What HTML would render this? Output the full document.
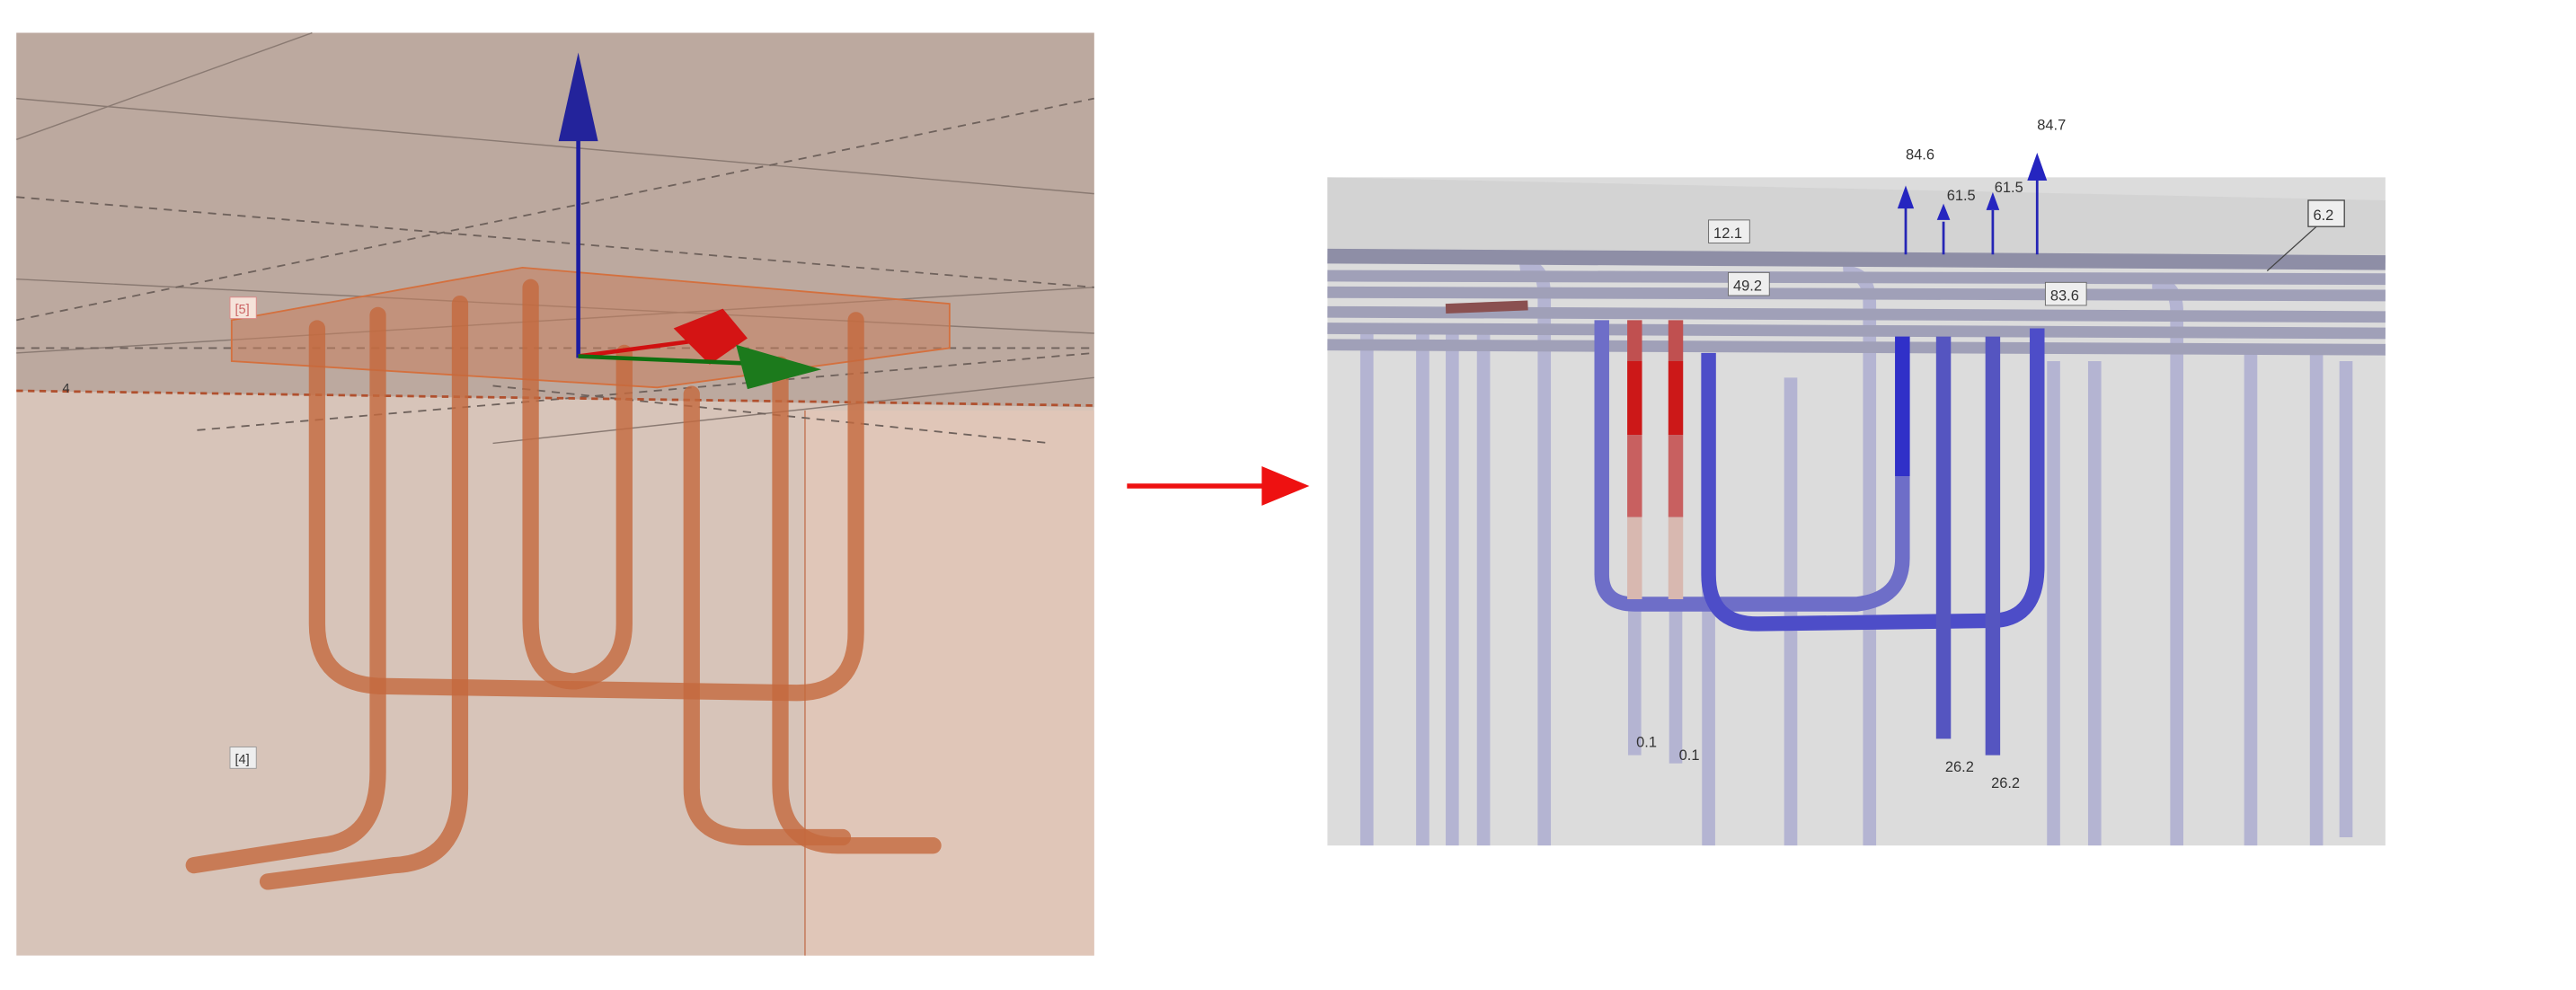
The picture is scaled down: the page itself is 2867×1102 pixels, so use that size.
<!DOCTYPE html>
<html><head><meta charset="utf-8"><style>
html,body{margin:0;padding:0;background:#fff;}
svg{display:block;}
text{font-family:"Liberation Sans",sans-serif;}
</style></head><body>
<svg width="2867" height="1102" viewBox="0 0 1568 603" preserveAspectRatio="none" xmlns="http://www.w3.org/2000/svg">
<rect width="1568" height="603" fill="#fff"/>
<!-- LEFT PANEL -->
<rect x="10" y="20" width="656" height="562" fill="#d7c4b9"/>
<polygon points="10,20 666,20 666,248 10,238" fill="#bca99f"/>
<rect x="490" y="250" width="176" height="332" fill="#e0c6b8"/>
<line x1="490" y1="250" x2="490" y2="582" stroke="#c8876a" stroke-width="1"/>
<g stroke="#8a7a72" stroke-width="0.8" fill="none">
<line x1="10" y1="60" x2="666" y2="118"/>
<line x1="10" y1="85" x2="190" y2="20"/>
<line x1="10" y1="170" x2="666" y2="203"/>
<line x1="10" y1="215" x2="666" y2="175"/>
<line x1="300" y1="270" x2="666" y2="230"/>
</g>
<g stroke="#6f625c" stroke-width="1" fill="none" stroke-dasharray="5,4">
<line x1="10" y1="120" x2="666" y2="175"/>
<line x1="10" y1="195" x2="666" y2="60"/>
<line x1="10" y1="212" x2="666" y2="212"/>
<line x1="120" y1="262" x2="666" y2="215"/>
<line x1="300" y1="235" x2="640" y2="270"/>
</g>
<path d="M10,238 L666,247" stroke="#b0502e" stroke-width="1.5" stroke-dasharray="4,3" fill="none"/>
<polygon points="141,195 318,163 578,185 578,212 400,236 141,220" fill="#c7805f" fill-opacity="0.55" stroke="#d4703e" stroke-width="1"/>
<rect x="140" y="181" width="16" height="13" fill="#f5e3da" stroke="#d88" stroke-width="0.5"/>
<text x="143" y="191" font-size="8" fill="#c66">[5]</text>
<text x="38" y="239" font-size="8" fill="#333">4</text>
<rect x="140" y="455" width="16" height="13" fill="#eee" stroke="#999" stroke-width="0.5"/>
<text x="143" y="465" font-size="8" fill="#333">[4]</text>
<g fill="none" stroke="#c4693d" stroke-opacity="0.8" stroke-width="10" stroke-linecap="round">
<path d="M193,200 L193,380 Q193,418 235,418 L485,422 Q521,422 521,385 L521,195"/>
<path d="M323,175 L323,378 Q323,415 350,415 Q380,410 380,380 L380,215"/>
<path d="M230,192 L230,470 Q230,512 195,515 L118,527"/>
<path d="M280,185 L280,480 Q280,525 240,527 L163,537"/>
<path d="M421,240 L421,480 Q421,510 455,510 L513,510"/>
<path d="M475,222 L475,478 Q475,515 510,515 L568,515"/>
</g>
<!-- axes -->
<line x1="352" y1="80" x2="352" y2="218" stroke="#1c1ca0" stroke-width="2.5"/>
<polygon points="352,32 340,86 364,86" fill="#23239b"/>
<line x1="352" y1="217" x2="420" y2="208" stroke="#d01010" stroke-width="2.5"/>
<polygon points="410,200 440,188 455,206 432,222" fill="#d41414"/>
<line x1="352" y1="217" x2="470" y2="222" stroke="#107010" stroke-width="2.5"/>
<polygon points="448,210 500,225 455,237" fill="#1c7a1c"/>
<!-- ARROW -->
<line x1="686" y1="296" x2="772" y2="296" stroke="#ee1111" stroke-width="3"/>
<polygon points="768,284 797,296 768,308" fill="#ee1111"/>
<!-- RIGHT PANEL -->
<rect x="808" y="108" width="644" height="407" fill="#dcdcdc"/>
<polygon points="808,108 1452,122 1452,160 808,152" fill="#d3d3d3"/>
<g stroke="#b4b4d2" stroke-width="8" fill="none">
<line x1="832" y1="200" x2="832" y2="515"/><line x1="866" y1="200" x2="866" y2="515"/>
<line x1="884" y1="200" x2="884" y2="515"/><line x1="903" y1="200" x2="903" y2="515"/>
<path d="M940,515 L940,180 Q940,160 925,162"/><line x1="995" y1="215" x2="995" y2="460"/>
<line x1="1020" y1="215" x2="1020" y2="465"/><line x1="1040" y1="215" x2="1040" y2="515"/>
<line x1="1090" y1="230" x2="1090" y2="515"/><path d="M1138,515 L1138,185 Q1138,165 1122,166"/>
<line x1="1250" y1="220" x2="1250" y2="515"/><line x1="1275" y1="220" x2="1275" y2="515"/>
<path d="M1325,515 L1325,190 Q1325,172 1310,172"/><line x1="1370" y1="210" x2="1370" y2="515"/>
<line x1="1410" y1="210" x2="1410" y2="515"/><line x1="1428" y1="220" x2="1428" y2="510"/>
</g>
<g stroke="#a0a0b8" stroke-width="7" fill="none">
<line x1="808" y1="168" x2="1452" y2="170"/>
<line x1="808" y1="178" x2="1452" y2="180"/>
<line x1="808" y1="190" x2="1452" y2="193"/>
<line x1="808" y1="200" x2="1452" y2="203"/>
<line x1="808" y1="210" x2="1452" y2="213"/>
</g>
<line x1="808" y1="156" x2="1452" y2="160" stroke="#8e8ea6" stroke-width="9"/>
<line x1="880" y1="188" x2="930" y2="186" stroke="#8a5050" stroke-width="6"/>
<!-- colored bars -->
<g fill="none" stroke-width="9">
<path d="M975,195 L975,350 Q975,368 995,368 L1130,368 Q1158,365 1158,340 L1158,205" stroke="#6e6ec8"/>
<path d="M1040,215 L1040,350 Q1040,380 1070,380 L1215,378 Q1240,376 1240,345 L1240,200" stroke="#4d4dc8"/>
<line x1="1158" y1="205" x2="1158" y2="290" stroke="#3030c8"/>
<line x1="1183" y1="205" x2="1183" y2="450" stroke="#5555c0"/>
<line x1="1213" y1="205" x2="1213" y2="460" stroke="#5555c0"/>
</g>
<line x1="995" y1="195" x2="995" y2="220" stroke="#c05050" stroke-width="9"/>
<line x1="995" y1="220" x2="995" y2="265" stroke="#cc1818" stroke-width="9"/>
<line x1="995" y1="265" x2="995" y2="315" stroke="#c86060" stroke-width="9"/>
<line x1="995" y1="315" x2="995" y2="365" stroke="#d8b8b0" stroke-width="9"/>
<line x1="1020" y1="195" x2="1020" y2="220" stroke="#c05050" stroke-width="9"/>
<line x1="1020" y1="220" x2="1020" y2="265" stroke="#cc1818" stroke-width="9"/>
<line x1="1020" y1="265" x2="1020" y2="315" stroke="#c86060" stroke-width="9"/>
<line x1="1020" y1="315" x2="1020" y2="365" stroke="#d8b8b0" stroke-width="9"/>
<!-- up arrows -->
<g stroke="#2525b5" stroke-width="1.5">
<line x1="1160" y1="125" x2="1160" y2="155"/><line x1="1183" y1="135" x2="1183" y2="155"/>
<line x1="1213" y1="128" x2="1213" y2="155"/><line x1="1240" y1="110" x2="1240" y2="155"/>
</g>
<g fill="#2525c0">
<polygon points="1160,113 1155,127 1165,127"/><polygon points="1183,124 1179,134 1187,134"/>
<polygon points="1213,117 1209,128 1217,128"/><polygon points="1240,93 1234,110 1246,110"/>
</g>
<g font-size="9" fill="#333">
<text x="1160" y="97">84.6</text><text x="1240" y="79">84.7</text>
<text x="1185" y="122">61.5</text><text x="1214" y="117">61.5</text>
<rect x="1040" y="134" width="25" height="14" fill="#eee" stroke="#666" stroke-width="0.5"/><text x="1043" y="145">12.1</text>
<rect x="1052" y="166" width="25" height="14" fill="#eee" stroke="#666" stroke-width="0.5"/><text x="1055" y="177">49.2</text>
<rect x="1245" y="172" width="25" height="14" fill="#eee" stroke="#666" stroke-width="0.5"/><text x="1248" y="183">83.6</text>
<rect x="1405" y="122" width="22" height="16" fill="#eee" stroke="#444" stroke-width="0.7"/><text x="1408" y="134">6.2</text>
<line x1="1410" y1="138" x2="1380" y2="165" stroke="#444" stroke-width="0.7"/>
<text x="996" y="455">0.1</text><text x="1022" y="463">0.1</text>
<text x="1184" y="470">26.2</text><text x="1212" y="480">26.2</text>
</g>
</svg>
</body></html>
